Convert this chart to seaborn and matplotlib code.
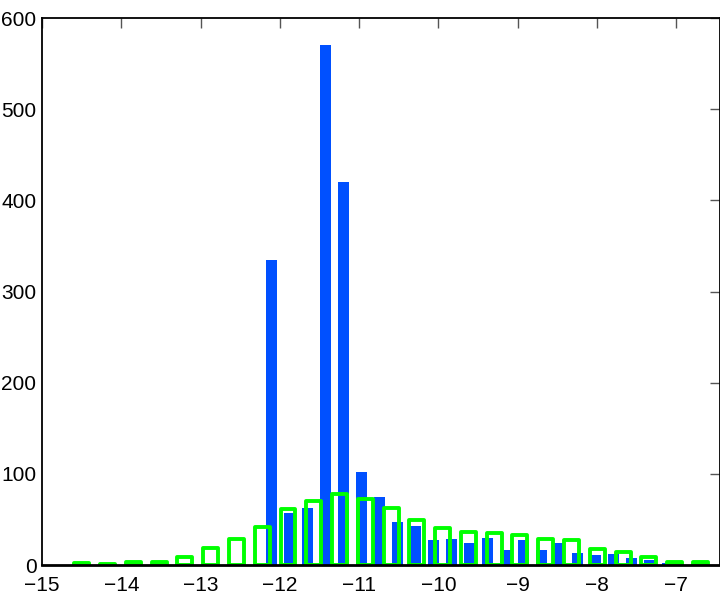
import matplotlib
matplotlib.use("Agg")
import matplotlib.pyplot as plt
import numpy as np
import pandas as pd
import seaborn as sns

# blue histogram: bin centres and counts
blue_centers = [-12.103, -11.877, -11.650, -11.423, -11.196, -10.970, -10.743,
                -10.516, -10.290, -10.063, -9.836, -9.610, -9.383, -9.156,
                -8.929, -8.703, -8.476, -8.249, -8.023, -7.796, -7.569,
                -7.343, -7.116]
blue_counts = [335, 57, 63, 570, 420, 102, 75, 47, 43, 27, 28, 24, 30, 17,
               27, 16, 24, 13, 11, 12, 8, 6, 2]

# green histogram: bin centres and counts
green_centers = [-14.50, -14.17, -13.85, -13.52, -13.20, -12.87, -12.55,
                 -12.22, -11.90, -11.57, -11.25, -10.92, -10.60, -10.27,
                 -9.95, -9.62, -9.30, -8.97, -8.65, -8.32, -8.00, -7.67,
                 -7.35, -7.02, -6.70]
green_counts = [2, 1.5, 3.5, 3.5, 9, 19, 28, 42, 61, 70, 78, 72, 62, 49, 41,
                36, 35, 33, 29, 27, 18, 14, 9, 3, 3]

x_ticks = [-15, -14, -13, -12, -11, -10, -9, -8, -7]
y_ticks = [0, 100, 200, 300, 400, 500, 600]


def edges_from_centers(c):
    c = np.asarray(c)
    mid = (c[1:] + c[:-1]) / 2
    first = c[0] - (mid[0] - c[0])
    last = c[-1] + (c[-1] - mid[-1])
    return [float(v) for v in np.concatenate([[first], mid, [last]])]


blue_df = pd.DataFrame({"x": blue_centers, "n": blue_counts})
green_df = pd.DataFrame({"x": green_centers, "n": green_counts})

sns.set_theme(style="white")
plt.rcParams['font.family'] = ['Liberation Sans Narrow', 'Liberation Sans', 'DejaVu Sans']

fig = plt.figure(figsize=(7.2, 6.01), dpi=100)
ax = fig.add_axes([0.0583, 0.0599, 0.9417, 0.9101])

sns.histplot(data=blue_df, x="x", weights="n", bins=edges_from_centers(blue_centers),
             shrink=0.61, color="#0050FF", edgecolor="none", alpha=1, linewidth=0, ax=ax)
sns.histplot(data=green_df, x="x", weights="n", bins=edges_from_centers(green_centers),
             shrink=0.58, fill=False, color="#00FF00", alpha=1, linewidth=2.8, ax=ax)
for p in ax.patches[len(blue_counts):]:
    p.set_edgecolor("#00FF00")
    p.set_linewidth(2.8)
    p.set_joinstyle("round")

ax.set_xlim(-15, -6.45)
ax.set_ylim(0, 600)
ax.set_xticks(x_ticks)
ax.set_yticks(y_ticks)
ax.set_xlabel("")
ax.set_ylabel("")
ax.tick_params(direction="in", length=7, width=1, color="#555555",
               top=True, right=True, labelsize=15, labelcolor="black")
ax.tick_params(axis="x", pad=8)
ax.tick_params(axis="y", pad=4)
for s in ["left", "top", "right"]:
    ax.spines[s].set_color("black")
    ax.spines[s].set_linewidth(1.3)
ax.spines["bottom"].set_color("black")
ax.spines["bottom"].set_linewidth(2)
ax.spines["bottom"].set_zorder(5)

fig.savefig("out.png", dpi=100)
